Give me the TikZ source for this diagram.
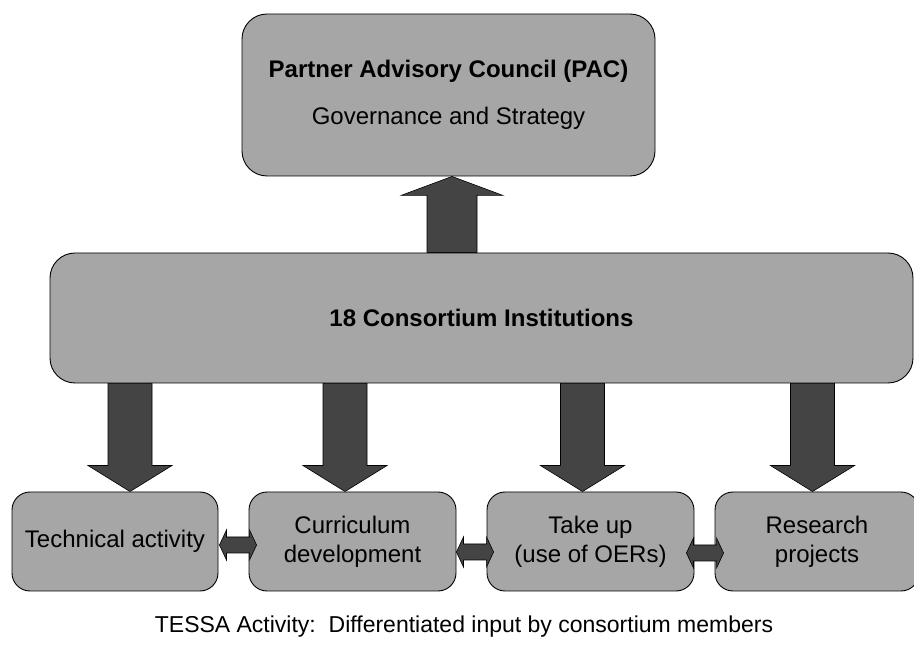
\documentclass[tikz,border=0pt]{standalone}
\usepackage{fontspec}
\setmainfont{Liberation Sans}
\usetikzlibrary{calc}
\definecolor{boxgray}{RGB}{166,166,166}
\definecolor{arrowgray}{RGB}{68,68,68}
\pgfdeclarelayer{bg}
\pgfsetlayers{bg,main}
\newcommand{\dnblk}[3]{%
  \path[blk] let \p1=(#2.south), \p2=(#3.north) in
    ({#1pt-22pt},\y1) -- ({#1pt+22pt},\y1) -- ({#1pt+22pt},{\y2+26pt}) --
    ({#1pt+42pt},{\y2+26pt}) -- (#1pt,\y2) -- ({#1pt-42pt},{\y2+26pt}) --
    ({#1pt-22pt},{\y2+26pt}) -- cycle;}
\newcommand{\dblblk}[5]{%
  \path[blk] let \p1=($(#1.east)+(#3pt,0)$), \p2=($(#2.west)+(#4pt,0)$) in
    (\x1,#5pt) -- ({\x1+7pt},{#5pt+15pt}) -- ({\x1+7pt},{#5pt+8pt}) --
    ({\x2-7pt},{#5pt+8pt}) -- ({\x2-7pt},{#5pt+15pt}) -- (\x2,#5pt) --
    ({\x2-7pt},{#5pt-15pt}) -- ({\x2-7pt},{#5pt-8pt}) --
    ({\x1+7pt},{#5pt-8pt}) -- ({\x1+7pt},{#5pt-15pt}) -- cycle;}
\begin{document}
\begin{tikzpicture}[x=1pt,y=1pt,
  box/.style={draw=black, line width=0.9pt, fill=boxgray, rounded corners=#1,
    inner sep=0pt, align=center, font=\fontsize{24}{29}\selectfont},
  box/.default=18pt,
  blk/.style={draw=black, line width=0.6pt, fill=arrowgray},
]
\useasboundingbox (0,0) rectangle (914,646);
\clip (0,0) rectangle (914,646);
\node[box=25pt, minimum width=413pt, minimum height=162pt] (pac) at (448.5,551)
  {\textbf{Partner Advisory Council (PAC)}\\[18pt]Governance and Strategy};
\node[box=25pt, minimum width=863pt, minimum height=130pt] (cons) at (481.5,328)
  {\textbf{18 Consortium Institutions}};
\node[box, minimum width=206pt, minimum height=99pt] (b1) at (115,104.5) {Technical activity};
\node[box, minimum width=207pt, minimum height=99pt] (b2) at (352.5,104.5) {Curriculum\\development};
\node[box, minimum width=207pt, minimum height=99pt] (b3) at (590.5,104.5) {Take up\\(use of OERs)};
\node[box, minimum width=204pt, minimum height=99pt] (b4) at (817,104.5) {Research\\projects};
\node[font=\fontsize{23}{28}\selectfont, anchor=base, inner sep=0pt] (cap) at (464,13)
  {TESSA Activity:\ \ Differentiated input by consortium members};
\begin{pgfonlayer}{bg}
  \path[blk] let \p1=(cons.north), \p2=(pac.south) in
    (427pt,\y1) -- (477pt,\y1) -- (477pt,{\y2-19pt}) -- (503pt,{\y2-19pt}) --
    (452pt,\y2) -- (401pt,{\y2-19pt}) -- (427pt,{\y2-19pt}) -- cycle;
  \dnblk{130}{cons}{b1}
  \dnblk{345}{cons}{b2}
  \dnblk{582.5}{cons}{b3}
  \dnblk{812.5}{cons}{b4}
\end{pgfonlayer}
\dblblk{b1}{b2}{1}{8}{101}
\dblblk{b2}{b3}{0}{7}{94}
\dblblk{b3}{b4}{-8}{9}{93}
\end{tikzpicture}
\end{document}
